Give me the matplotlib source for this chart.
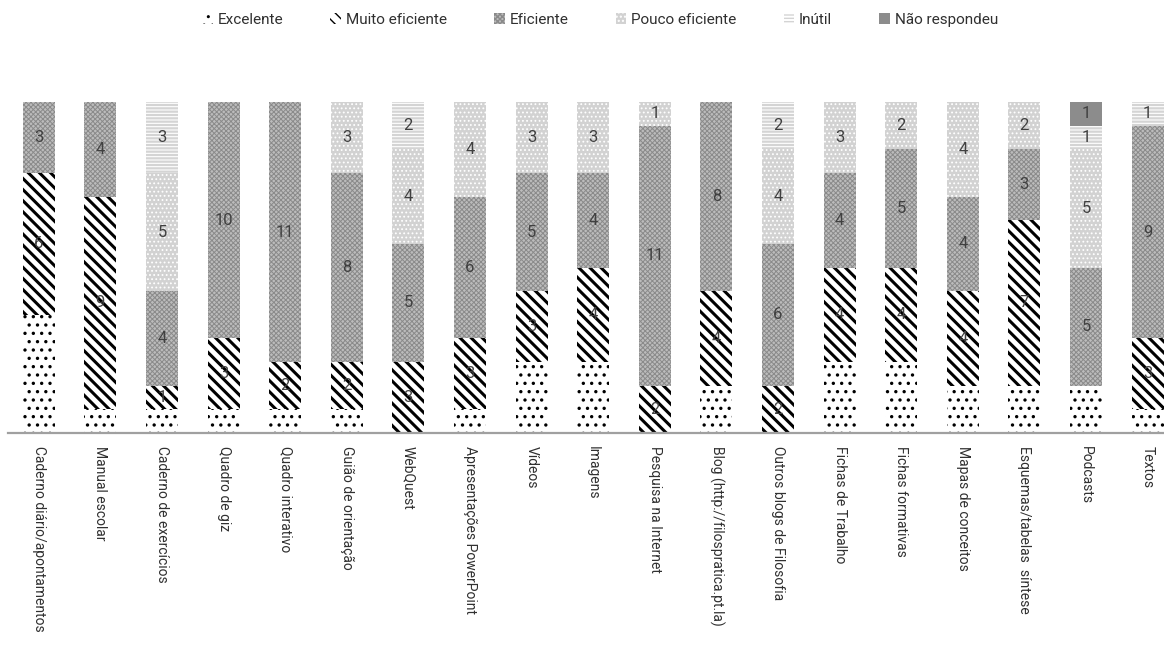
import matplotlib
matplotlib.use("Agg")
import matplotlib.pyplot as plt
import numpy as np

categories = [
    "Caderno diário/apontamentos", "Manual escolar", "Caderno de exercícios",
    "Quadro de giz", "Quadro interativo", "Guião de orientação", "WebQuest",
    "Apresentações PowerPoint", "Vídeos", "Imagens", "Pesquisa na Internet",
    "Blog (http://filospratica.pt.la)", "Outros blogs de Filosofia",
    "Fichas de Trabalho", "Fichas formativas", "Mapas de conceitos",
    "Esquemas/tabelas  síntese", "Podcasts", "Textos",
]
series_names = ["Excelente", "Muito eficiente", "Eficiente", "Pouco eficiente",
                "Inútil", "Não respondeu"]
excelente       = [5, 1, 1, 1, 1, 1, 0, 1, 3, 3, 0, 2, 0, 3, 3, 2, 2, 2, 1]
muito_eficiente = [6, 9, 1, 3, 2, 2, 3, 3, 3, 4, 2, 4, 2, 4, 4, 4, 7, 0, 3]
eficiente       = [3, 4, 4, 10, 11, 8, 5, 6, 5, 4, 11, 8, 6, 4, 5, 4, 3, 5, 9]
pouco_eficiente = [0, 0, 5, 0, 0, 3, 4, 4, 3, 3, 1, 0, 4, 3, 2, 4, 2, 5, 0]
inutil          = [0, 0, 3, 0, 0, 0, 2, 0, 0, 0, 0, 0, 2, 0, 0, 0, 0, 1, 1]
nao_respondeu   = [0, 0, 0, 0, 0, 0, 0, 0, 0, 0, 0, 0, 0, 0, 0, 0, 0, 1, 0]
series = [excelente, muito_eficiente, eficiente, pouco_eficiente, inutil, nao_respondeu]

# fill styles per series: facecolor, hatch, hatch colour, hatch linewidth
styles = [
    dict(fc="white", hatch="..", hc="black", hlw=1.2),
    dict(fc="white", hatch="\\\\\\", hc="black", hlw=2.2),
    dict(fc="#bcbcbc", hatch="xxxxxxx", hc="#8a8a8a", hlw=0.7),
    dict(fc="#d2d2d2", hatch="....", hc="white", hlw=0.8),
    dict(fc="white", hatch="-----", hc="#d4d4d4", hlw=1.6),
    dict(fc="#8c8c8c", hatch=None, hc="#8c8c8c", hlw=1.0),
]

plt.rcParams["font.family"] = ["Roboto", "DejaVu Sans"]

W, H = 1164, 646
fig = plt.figure(figsize=(W / 100, H / 100), dpi=100)
left_px, base_px, top_px = 8, 433, 102
spacing = 61.6
ax = fig.add_axes([left_px / W, (H - base_px) / H, (W - left_px) / W, (base_px - top_px) / H])

x = np.arange(len(categories))
bottom = np.zeros(len(categories))
handles = []
for name, vals, st in zip(series_names, series, styles):
    vals = np.array(vals, dtype=float)
    with plt.rc_context({"hatch.linewidth": st["hlw"]}):
        bars = ax.bar(x, vals, width=0.52, bottom=bottom, color=st["fc"],
                      edgecolor=st["hc"], linewidth=0, hatch=st["hatch"], label=name)
    handles.append(bars)
    if name != "Excelente":
        for xi, b, v in zip(x, bottom, vals):
            if v > 0:
                ax.text(xi, b + v / 2, f"{int(v)}", ha="center", va="center",
                        fontsize=12, color="#404040")
    bottom += vals

ax.set_ylim(0, 14)
ax.set_xlim(-0.5, -0.5 + (W - left_px) / spacing)
for s in ["top", "right", "left"]:
    ax.spines[s].set_visible(False)
ax.spines["bottom"].set_color("#a0a0a0")
ax.spines["bottom"].set_linewidth(1.6)
ax.set_yticks([])
ax.set_xticks(x)
ax.set_xticklabels(categories, rotation=-90, ha="center", va="top",
                   fontsize=10, color="#303030")
ax.tick_params(axis="x", length=0, pad=9)

fig.legend(handles=handles, labels=series_names, loc="center",
           bbox_to_anchor=(600 / W, 1 - 20 / H), ncol=6, frameon=False,
           fontsize=11, handlelength=0.7, handleheight=0.7, handletextpad=0.3,
           columnspacing=3.1, labelcolor="#303030")

fig.savefig("out.png", dpi=100)
